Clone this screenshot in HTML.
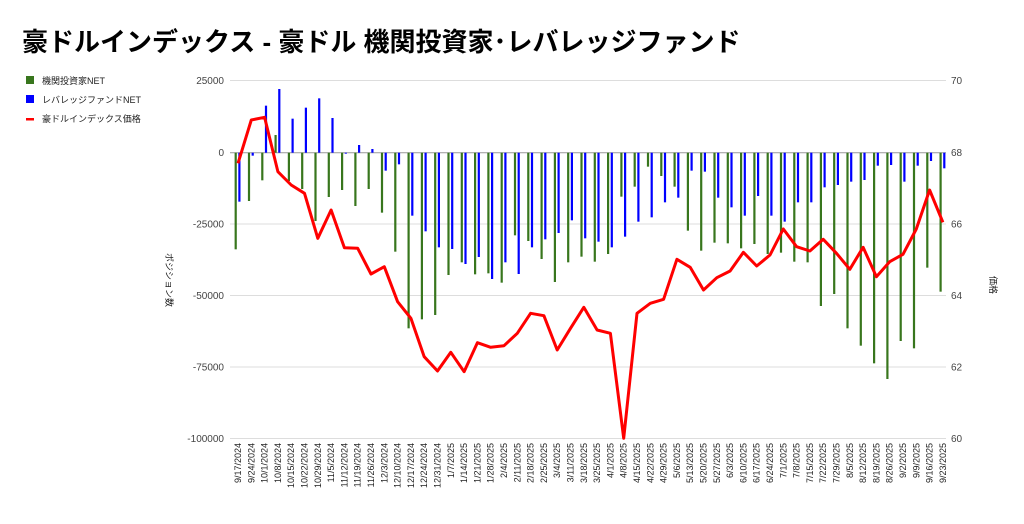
<!DOCTYPE html>
<html><head><meta charset="utf-8"><style>
body{margin:0;background:#fff;}
svg text{font-family:"Liberation Sans","Noto Sans CJK JP",sans-serif;}
</style></head><body>
<svg id="s" width="1024" height="519" xmlns="http://www.w3.org/2000/svg">
<rect width="1024" height="519" fill="#fff"/>
<text x="22" y="51" font-size="26" font-weight="bold" fill="#000">豪ドルインデックス - 豪ドル 機関投資家･レバレッジファンド</text>
<rect x="26" y="76" width="8" height="8" fill="#38761d"/>
<text x="42" y="84" font-size="9" fill="#222">機関投資家NET</text>
<rect x="26" y="95" width="8" height="8" fill="#0000ff"/>
<text x="42" y="103" font-size="9" fill="#222">レバレッジファンドNET</text>
<rect x="26" y="118" width="8" height="2.5" fill="#ff0000"/>
<text x="42" y="122" font-size="9" fill="#222">豪ドルインデックス価格</text>
<text transform="translate(166,280) rotate(90)" font-size="9" fill="#222" text-anchor="middle">ポジション数</text>
<text transform="translate(990,285) rotate(90)" font-size="9" fill="#222" text-anchor="middle">価格</text>
<g id="g"></g>
</svg>
<script>
var g=document.getElementById('g'),h='';
var gl=[[80.5,'25000','70'],[152.7,'0','68'],[224,'-25000','66'],[295.5,'-50000','64'],[367,'-75000','62'],[438.5,'-100000','60']];
gl.forEach(function(a){h+='<line x1="230" x2="946" y1="'+a[0]+'" y2="'+a[0]+'" stroke="'+(a[1]=='0'?'#999':'#ddd')+'" stroke-width="1"/>';
h+='<text x="224" y="'+(a[0]+3.5)+'" font-size="10" fill="#444" text-anchor="end">'+a[1]+'</text>';
h+='<text x="951" y="'+(a[0]+3.5)+'" font-size="10" fill="#444">'+a[2]+'</text>';});
var G=[523,378,316,180,318,342,438,366,345,393,342,413,530,760,733,720,600,562,598,595,623,481,498,552,621,562,545,560,537,365,335,275,303,335,467,527,503,505,520,507,537,533,560,562,693,657,760,812,865,912,798,820,578,650];
var B=[380,242,92,42,131,98,70,129,236,210,222,287,268,422,469,517,522,567,546,612,562,597,517,493,474,436,490,500,517,485,440,427,382,368,287,290,368,397,422,363,422,440,382,382,337,330,320,315,272,270,320,272,258,280];
var R=[265,135,127,290,330,355,490,405,518,520,597,575,680,730,845,888,832,890,803,817,812,775,715,722,825,760,697,765,775,1090,715,685,673,553,577,645,608,588,532,573,540,462,515,528,493,535,583,517,605,560,538,462,345,442];
var base=152.7,pts=[];
var d0=new Date(2024,8,17);
for(var i=0;i<54;i++){var c=238+i*13.3;
var gy=G[i]/3+75,by=B[i]/3+75;
h+='<rect x="'+(c-3.4)+'" y="'+Math.min(gy,base)+'" width="2.2" height="'+Math.abs(gy-base)+'" fill="#38761d"/>';
h+='<rect x="'+(c+0.3)+'" y="'+Math.min(by,base)+'" width="2.2" height="'+Math.abs(by-base)+'" fill="#0000ff"/>';
pts.push(c.toFixed(1)+','+(R[i]/3+75).toFixed(1));
var d=new Date(d0.getTime()+i*7*864e5);
var lab=(d.getMonth()+1)+'/'+d.getDate()+'/'+d.getFullYear();
h+='<text transform="translate('+(c+3)+',443) rotate(-90)" font-size="9" fill="#222" text-anchor="end">'+lab+'</text>';}
h+='<polyline points="'+pts.join(' ')+'" fill="none" stroke="#ff0000" stroke-width="3" stroke-linejoin="round"/>';
g.innerHTML=h;
</script>
</body></html>
